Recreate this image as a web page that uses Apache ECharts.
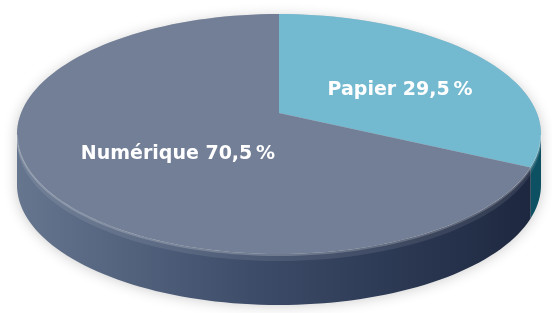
<!DOCTYPE html>
<html>
<head>
<meta charset="utf-8">
<script src="https://cdn.jsdelivr.net/npm/echarts@6/dist/echarts.min.js"></script>
<style>
  html, body { margin: 0; padding: 0; background: #fff; }
  #pie_con { width: 552px; height: 313px; }
</style>
</head>
<body>
<div id="pie_con"></div>
<script>
const categories = ['Papier', 'Numérique'];
const shares = [29.5, 70.5];

const topColors = ['#73b9cf', '#727f97'];
const sideStops = [
    [{offset: 0, color: '#1c7a8e'}, {offset: 1, color: '#0c5062'}],
    [{offset: 0, color: '#66768f'}, {offset: 0.45, color: '#3d4c69'}, {offset: 1, color: '#1c263e'}]
];

// fake 3d pie geometry (px)
const cx = 279, cy = 134, rx = 262, ry = 120;
const apexY = 113;
const depth = 51;

function rimPoint (deg, dy) {
    const r = deg * Math.PI / 180;
    return [cx + rx * Math.sin(r), cy - ry * Math.cos(r) + (dy || 0)];
}

function arc (a0, a1, dy) {
    const pts = [];
    const n = Math.max(2, Math.ceil(Math.abs(a1 - a0) / 2));
    for (let k = 0; k <= n; k++) {
        pts.push(rimPoint(a0 + (a1 - a0) * k / n, dy));
    }
    return pts;
}

function fmt (v) {
    return String(v).replace('.', ',') + '\u2009%';
}

const total = shares.reduce((s, v) => s + v, 0);

function renderItem (params, api) {
    const i = params.dataIndex;
    let start = 0;
    for (let k = 0; k < i; k++) start += shares[k];
    const a0 = start / total * 360;
    const a1 = (start + api.value(0)) / total * 360;
    const children = [];

    if (i === 0) {
        // soft drop shadow under the whole disc
        children.push({
            type: 'polygon',
            shape: {points: arc(90, 270, depth - 3).concat(arc(270, 450, 0))},
            style: {fill: '#cccccc', shadowBlur: 14, shadowColor: 'rgba(0,0,0,0.22)', shadowOffsetY: 3},
            z2: 0
        });
    }

    // visible side wall (front half only)
    const lo = Math.max(a0, 90), hi = Math.min(a1, 270);
    if (hi > lo) {
        children.push({
            type: 'polygon',
            shape: {points: arc(lo, hi, 0).concat(arc(hi, lo, depth))},
            style: {fill: new echarts.graphic.LinearGradient(cx - rx, 0, cx + rx, 0, sideStops[i], true)},
            z2: 1
        });
        // rounded rim: light band under the edge
        children.push({
            type: 'polygon',
            shape: {points: arc(lo, hi, 0).concat(arc(hi, lo, 7))},
            style: {fill: 'rgba(255,255,255,0.09)'},
            z2: 1.5
        });
    }

    // top face
    children.push({
        type: 'polygon',
        shape: {points: [[cx, apexY]].concat(arc(a0, a1, 0))},
        style: {fill: topColors[i]},
        z2: 2
    });

    // bevel highlight along the front rim
    if (hi > lo) {
        children.push({
            type: 'polyline',
            shape: {points: arc(lo, hi, 1)},
            style: {stroke: 'rgba(255,255,255,0.2)', lineWidth: 2, fill: null},
            z2: 3
        });
    }

    const mid = (a0 + a1) / 2;
    const rp = rimPoint(mid, 0);
    children.push({
        type: 'text',
        x: cx + (rp[0] - cx) * 0.53 + 10,
        y: apexY + (rp[1] - apexY) * 0.44,
        style: {
            text: categories[i] + ' ' + fmt(api.value(0)),
            fill: '#ffffff',
            fontSize: 19,
            fontWeight: 'bold',
            fontFamily: 'DejaVu Sans',
            align: 'center',
            verticalAlign: 'middle'
        },
        z2: 10
    });

    return {type: 'group', children: children};
}

let pieChart = echarts.init(document.getElementById('pie_con'));
const option = {
    animation: false,
    series: [
        {
            type: 'custom',
            coordinateSystem: 'none',
            renderItem: renderItem,
            data: shares.map((v, i) => ({name: categories[i], value: [v]}))
        }
    ]
};
pieChart.setOption(option);
window.addEventListener('resize', function () {
    pieChart.resize();
});
</script>
</body>
</html>
